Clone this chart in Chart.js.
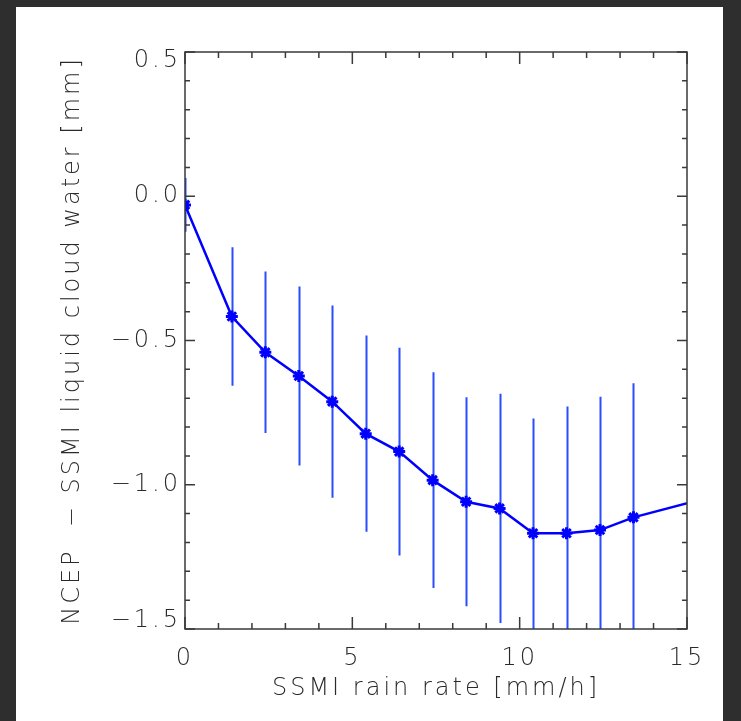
<!DOCTYPE html>
<html>
<head>
<meta charset="utf-8">
<script src="https://cdn.jsdelivr.net/npm/chart.js@4.4.1/dist/chart.umd.min.js"></script>
<style>
  html, body { margin: 0; padding: 0; background: #2e2e2e; overflow: hidden; }
  #panel { position: absolute; left: 16px; top: 7px; width: 707px; height: 714px; background: #fff; }
  #wrap { position: absolute; left: 0; top: 0; width: 741px; height: 721px; }
</style>
</head>
<body>
<div id="panel"></div>
<div id="wrap"><canvas id="chart" width="741" height="721"></canvas></div>
<script>
// rain-rate bins and mean difference (NCEP - SSMI), with +/- spread
const rainRate = [0, 1.4, 2.4, 3.4, 4.4, 5.4, 6.4, 7.4, 8.4, 9.4, 10.4, 11.4, 12.4, 13.4, 15.4];
const meanDiff = [-0.03, -0.417, -0.541, -0.623, -0.712, -0.823, -0.885, -0.984, -1.059, -1.082, -1.168, -1.168, -1.157, -1.113, -1.052];
const errHalf  = [0.093, 0.24, 0.28, 0.31, 0.333, 0.34, 0.36, 0.374, 0.362, 0.397, 0.398, 0.439, 0.462, 0.465, null];

const xTickValues = [0, 5, 10, 15];
const xTickLabels = ['0', '5', '10', '15'];
const yTickValues = [-1.5, -1.0, -0.5, 0.0, 0.5];
const yTickLabels = ['\u22121.5', '\u22121.0', '\u22120.5', '0.0', '0.5'];
const minorPerMajor = 5;

const textColor = '#2a2a2a';
const axisFont = { family: 'DejaVu Sans', size: 24, weight: 200 };

// letter spacing to get closer to the wide vector font of the original
const spacing = {
    id: 'spacing',
    beforeUpdate(chart) { chart.ctx.letterSpacing = '3px'; },
    beforeDraw(chart) { chart.ctx.letterSpacing = '3px'; }
};

// vertical error bars, clipped to the plot box
const errorBars = {
    id: 'errorBars',
    beforeDatasetsDraw(chart) {
        const { ctx, chartArea: a, scales: { x, y } } = chart;
        ctx.save();
        ctx.beginPath();
        ctx.rect(a.left, a.top, a.right - a.left, a.bottom - a.top);
        ctx.clip();
        ctx.strokeStyle = '#2a4dff';
        ctx.lineWidth = 2;
        ctx.beginPath();
        rainRate.forEach((r, i) => {
            if (errHalf[i] == null) return;
            const px = Math.round(x.getPixelForValue(r)) + 0.5;
            ctx.moveTo(px, y.getPixelForValue(meanDiff[i] + errHalf[i]));
            ctx.lineTo(px, y.getPixelForValue(meanDiff[i] - errHalf[i]));
        });
        ctx.stroke();
        ctx.restore();
    }
};

// box around the plot with inward major/minor ticks on all four sides
function tickList(values) {
    const out = [];
    for (let i = 0; i < values.length - 1; i++) {
        const step = (values[i + 1] - values[i]) / minorPerMajor;
        for (let k = 0; k < minorPerMajor; k++) {
            out.push({ v: values[i] + k * step, major: k === 0 });
        }
    }
    out.push({ v: values[values.length - 1], major: true });
    return out;
}

const frameTicks = {
    id: 'frameTicks',
    afterDraw(chart) {
        const { ctx, chartArea: a, scales: { x, y } } = chart;
        ctx.save();
        ctx.strokeStyle = '#3a3a3a';
        ctx.lineWidth = 1.5;
        ctx.strokeRect(a.left, a.top, a.right - a.left, a.bottom - a.top);
        ctx.beginPath();
        tickList(xTickValues).forEach(t => {
            const px = x.getPixelForValue(t.v);
            const len = t.major ? 12 : 6;
            ctx.moveTo(px, a.bottom); ctx.lineTo(px, a.bottom - len);
            ctx.moveTo(px, a.top); ctx.lineTo(px, a.top + len);
        });
        tickList(yTickValues).forEach(t => {
            const py = y.getPixelForValue(t.v);
            const len = t.major ? 10 : 5;
            ctx.moveTo(a.left, py); ctx.lineTo(a.left + len, py);
            ctx.moveTo(a.right, py); ctx.lineTo(a.right - len, py);
        });
        ctx.stroke();
        ctx.restore();
    }
};

// end labels of the y axis sit a little inside the box, as in the original
const yEndNudge = 0.03;

new Chart(document.getElementById('chart'), {
    type: 'line',
    data: {
        datasets: [{
            data: rainRate.map((r, i) => ({ x: r, y: meanDiff[i] })),
            borderColor: '#0000ff',
            borderWidth: 2.5,
            pointStyle: 'star',
            pointRadius: 6,
            pointBorderWidth: 3,
            pointBorderColor: '#0000ff',
            pointBackgroundColor: '#0000ff',
            tension: 0,
            clip: 0
        }]
    },
    options: {
        responsive: false,
        devicePixelRatio: 1,
        animation: false,
        events: [],
        layout: { padding: { top: 52, right: 54, left: 0, bottom: 0 } },
        plugins: { legend: { display: false }, tooltip: { enabled: false } },
        scales: {
            x: {
                type: 'linear',
                min: 0,
                max: 15,
                grid: { display: false, drawTicks: false },
                border: { display: false },
                afterBuildTicks: s => { s.ticks = xTickValues.map(v => ({ value: v })); },
                afterFit: s => { s.height = 92; },
                ticks: {
                    color: textColor,
                    font: axisFont,
                    padding: 15,
                    maxRotation: 0,
                    callback: (v, i) => xTickLabels[i]
                },
                title: {
                    display: true,
                    text: 'SSMI rain rate [mm/h]',
                    color: textColor,
                    font: axisFont,
                    padding: { top: 0, bottom: 18 }
                }
            },
            y: {
                type: 'linear',
                min: -1.5,
                max: 0.5,
                grid: { display: false, drawTicks: false },
                border: { display: false },
                afterBuildTicks: s => {
                    const last = yTickValues.length - 1;
                    s.ticks = yTickValues.map((v, i) => ({
                        value: i === 0 ? v + yEndNudge : i === last ? v - yEndNudge : v
                    }));
                },
                afterFit: s => { s.width = 185; },
                ticks: {
                    color: textColor,
                    font: axisFont,
                    padding: 4,
                    callback: (v, i) => yTickLabels[i]
                },
                title: {
                    display: true,
                    text: 'NCEP  \u2212 SSMI liquid cloud water [mm]',
                    color: textColor,
                    font: axisFont,
                    padding: { top: 58, bottom: 0 }
                }
            }
        }
    },
    plugins: [spacing, errorBars, frameTicks]
});
</script>
</body>
</html>
